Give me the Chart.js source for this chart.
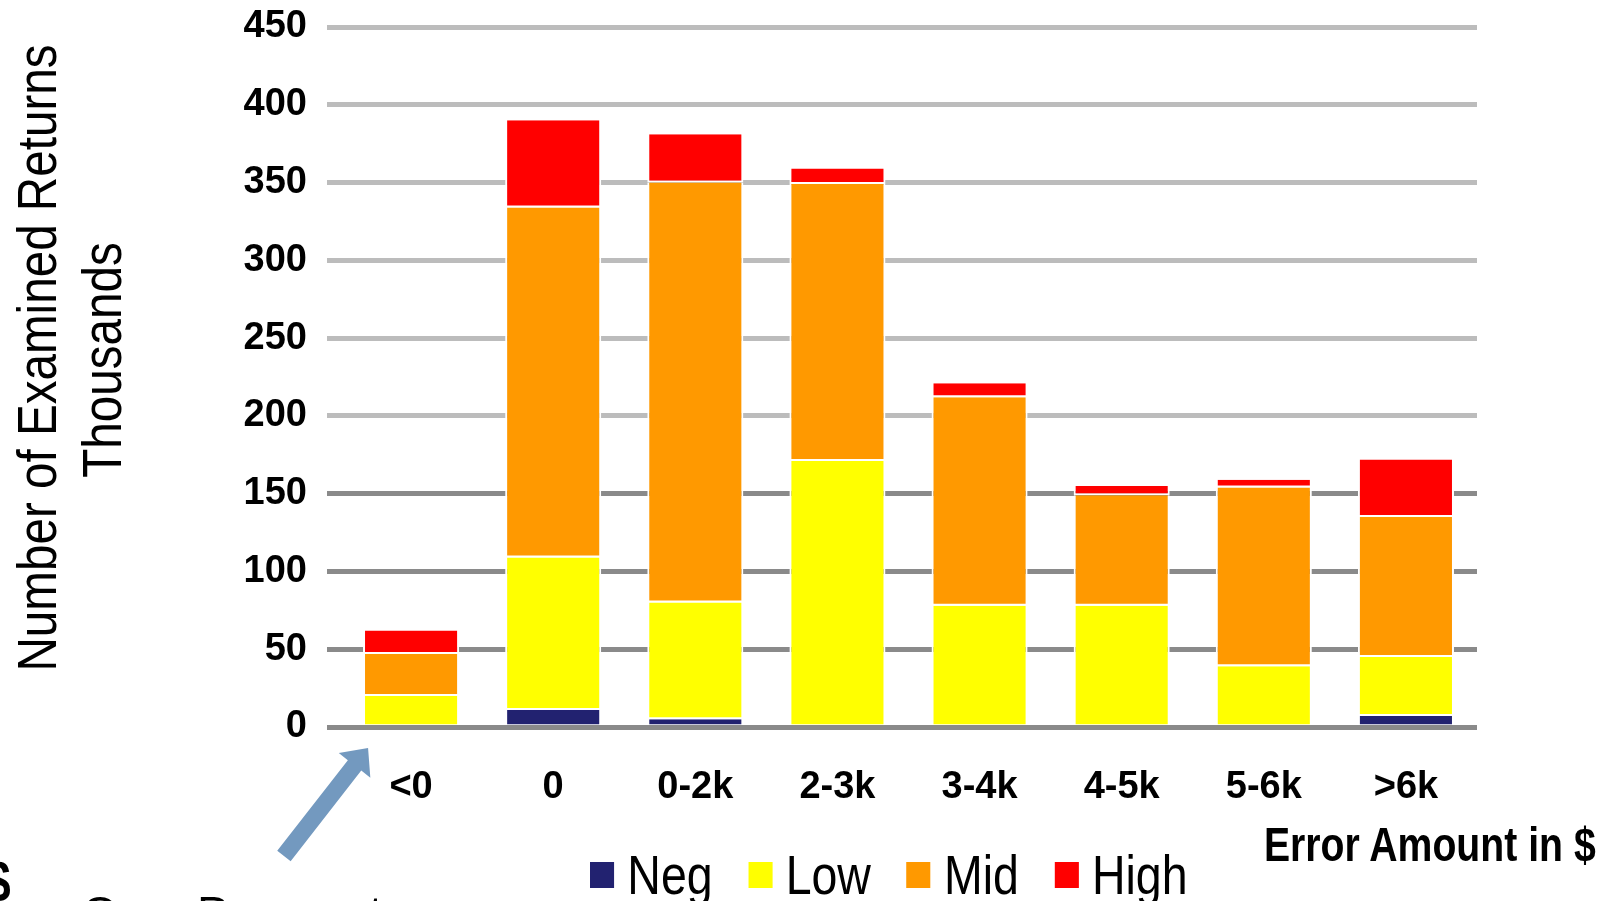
<!DOCTYPE html>
<html>
<head>
<meta charset="utf-8">
<script src="https://cdn.jsdelivr.net/npm/chart.js@4/dist/chart.umd.min.js"></script>
<style>
  html, body { margin: 0; padding: 0; background: #fff; overflow: hidden; }
  #wrap { position: relative; width: 1604px; height: 901px; overflow: hidden;
          font-family: "Liberation Sans", Arial, sans-serif; color: #000; }
  canvas { position: absolute; left: 0; top: 0; }
  .ytitle { position: absolute; width: 800px; height: 56px; font-size: 56px; line-height: 56px;
            text-align: center; white-space: nowrap; transform: rotate(-90deg) scaleX(0.85);
            transform-origin: center center; }
  #yTitle1 { left: -363px; top: 330px; }
  #yTitle2 { left: -298px; top: 332px; }
  #xTitle { position: absolute; right: 8px; top: 820px; font-size: 49px; line-height: 49px; font-weight: bold;
            white-space: nowrap; transform: scaleX(0.8); transform-origin: right center; }
  #legend { position: absolute; left: 590px; top: 847px; display: flex; align-items: center; font-size: 56px;
            line-height: 56px; white-space: nowrap; transform: scaleX(0.83); transform-origin: left center; }
  #legend .item { display: flex; align-items: center; margin-right: 43px; }
  #legend .box { width: 29px; height: 26px; margin-right: 16px; }
  #dollar { position: absolute; left: -16px; top: 852px; font-size: 60px; line-height: 60px; font-weight: bold;
            transform: scaleX(0.8); transform-origin: left center; }
  #note { position: absolute; left: 82px; top: 889px; font-size: 47px; line-height: 47px; white-space: nowrap; }
</style>
</head>
<body>
<div id="wrap">
  <canvas id="c" width="1604" height="901"></canvas>
  <div id="yTitle1" class="ytitle">Number of Examined Returns</div>
  <div id="yTitle2" class="ytitle">Thousands</div>
  <div id="xTitle">Error Amount in $</div>
  <div id="legend"></div>
  <div id="dollar">$</div>
  <div id="note">Over Payment</div>
</div>
<script>
// Error-amount buckets (x axis)
const categories = ['<0', '0', '0-2k', '2-3k', '3-4k', '4-5k', '5-6k', '>6k'];

// Examined returns per bucket, in thousands, split by income group
const negValues  = [0, 11, 5, 0, 0, 0, 0, 7];
const lowValues  = [20, 98, 75, 171, 78, 78, 39, 38];
const midValues  = [27, 225, 270, 178, 134, 71, 115, 90];
const highValues = [15, 56, 31, 10, 9, 6, 5, 37];

const seriesNames = ['Neg', 'Low', 'Mid', 'High'];
const seriesColors = ['#222270', '#ffff00', '#ff9900', '#ff0000'];

const yTicks = [0, 50, 100, 150, 200, 250, 300, 350, 400, 450];

const FONT = '"Liberation Sans", Arial, sans-serif';

const seriesData = [negValues, lowValues, midValues, highValues];

// White separators: sides always, bottom only when a segment sits on another one
function segmentBorder(ctx) {
  let below = 0;
  for (let k = 0; k < ctx.datasetIndex; k++) below += seriesData[k][ctx.dataIndex];
  return { top: 0, bottom: below === 0 ? 0 : 2, left: 2, right: 2 };
}

// Blue call-out arrow pointing at the first bucket
const calloutArrow = {
  id: 'calloutArrow',
  afterDraw(chart) {
    const x = chart.scales.x, y = chart.scales.y;
    const tipX = x.getPixelForValue(0) - 43;
    const tipY = y.getPixelForValue(0) + 21;
    const dx = 0.614, dy = -0.789;      // direction towards the tip
    const nx = 0.789, ny = 0.614;       // normal
    const headLen = 22, headHalf = 20, shaftHalf = 8.5, len = 137;
    const bx = tipX - headLen * dx, by = tipY - headLen * dy;
    const tx = tipX - len * dx, ty = tipY - len * dy;
    const ctx = chart.ctx;
    ctx.save();
    ctx.fillStyle = '#7399bf';
    ctx.beginPath();
    ctx.moveTo(tipX, tipY);
    ctx.lineTo(bx + headHalf * nx, by + headHalf * ny);
    ctx.lineTo(bx + shaftHalf * nx, by + shaftHalf * ny);
    ctx.lineTo(tx + shaftHalf * nx, ty + shaftHalf * ny);
    ctx.lineTo(tx - shaftHalf * nx, ty - shaftHalf * ny);
    ctx.lineTo(bx - shaftHalf * nx, by - shaftHalf * ny);
    ctx.lineTo(bx - headHalf * nx, by - headHalf * ny);
    ctx.closePath();
    ctx.fill();
    ctx.restore();
  }
};

const chart = new Chart(document.getElementById('c'), {
  type: 'bar',
  data: {
    labels: categories,
    datasets: seriesNames.map((name, i) => ({
      label: name,
      data: seriesData[i],
      backgroundColor: seriesColors[i],
      borderColor: '#ffffff',
      borderWidth: segmentBorder,
      borderSkipped: false,
      categoryPercentage: 1,
      barPercentage: 0.676
    }))
  },
  options: {
    responsive: false,
    animation: false,
    layout: { padding: { top: 27, right: 127, bottom: 0, left: 0 } },
    plugins: {
      legend: { display: false },
      tooltip: { enabled: false }
    },
    scales: {
      x: {
        stacked: true,
        grid: { display: false, drawTicks: false },
        border: { display: false },
        ticks: {
          color: '#000',
          padding: 38,
          font: { family: FONT, size: 38, weight: 'bold' }
        },
        afterFit(scale) { scale.height = 174; }
      },
      y: {
        stacked: true,
        min: 0,
        max: 450,
        afterBuildTicks(scale) { scale.ticks = yTicks.map(v => ({ value: v })); },
        grid: {
          color: ctx => (ctx.tick && ctx.tick.value <= 150 ? '#8a8a8a' : '#bcbcbc'),
          lineWidth: 5,
          drawTicks: true,
          tickLength: 13
        },
        border: { display: false },
        ticks: {
          color: '#000',
          padding: 20,
          font: { family: FONT, size: 38, weight: 'bold' }
        },
        afterFit(scale) {
          scale.width = 340;
          scale.paddingTop = 0;
          scale.paddingBottom = 0;
        }
      }
    }
  },
  plugins: [calloutArrow]
});

// Legend built from the chart's datasets
const legend = document.getElementById('legend');
chart.data.datasets.forEach(ds => {
  const item = document.createElement('div');
  item.className = 'item';
  const box = document.createElement('div');
  box.className = 'box';
  box.style.background = ds.backgroundColor;
  const label = document.createElement('span');
  label.textContent = ds.label;
  item.appendChild(box);
  item.appendChild(label);
  legend.appendChild(item);
});
</script>
</body>
</html>
